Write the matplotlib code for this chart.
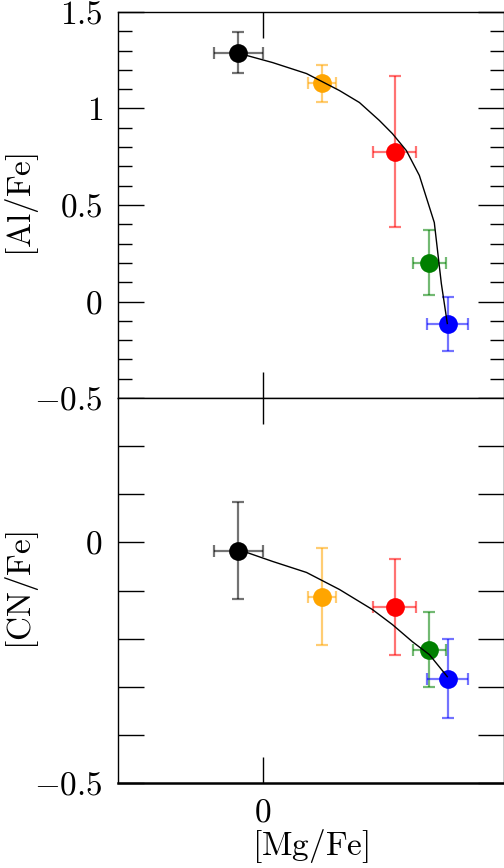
import numpy as np
import matplotlib
matplotlib.use("Agg")
import matplotlib.pyplot as plt
from matplotlib.ticker import FixedLocator, FuncFormatter

# ---- data ----
colors = ["black", "orange", "red", "green", "blue"]
mg = [-0.025, 0.062, 0.137, 0.173, 0.192]
mg_err = [0.025, 0.0145, 0.022, 0.017, 0.021]
al = [1.29, 1.13, 0.777, 0.202, -0.119]
al_err = [0.105, 0.095, 0.39, 0.168, 0.14]
cn = [-0.017, -0.1125, -0.135, -0.223, -0.283]
cn_err = [0.10, 0.10, 0.10, 0.078, 0.082]

# model curves
al_curve_x = [-0.0249, -0.0166, 0.0104, 0.0456, 0.0798, 0.1005, 0.1212, 0.1347,
              0.1492, 0.1627, 0.1782, 0.1855, 0.1917]
al_curve_y = [1.290, 1.275, 1.238, 1.181, 1.093, 1.031, 0.938, 0.870,
              0.782, 0.653, 0.409, 0.093, -0.114]
cn_curve_x = [-0.0249, -0.0166, 0.0104, 0.0456, 0.0798, 0.1140, 0.1347, 0.1554,
              0.1731, 0.1917]
cn_curve_y = [-0.0167, -0.0208, -0.0396, -0.0625, -0.0979, -0.1396, -0.1708,
              -0.2063, -0.2333, -0.279]

plt.rcParams["mathtext.fontset"] = "cm"
plt.rcParams["font.family"] = "serif"
plt.rcParams["font.serif"] = ["cmr10", "DejaVu Serif"]
plt.rcParams["axes.unicode_minus"] = True

fig = plt.figure(figsize=(5.04, 8.68), dpi=100)
L, R = 118 / 504, 503.5 / 504
ax1 = fig.add_axes([L, 1 - 398 / 868, R - L, 386 / 868])
ax2 = fig.add_axes([L, 1 - 783 / 868, R - L, 385 / 868])

FS = 24
LFS = 24

def fmt(v, pos):
    if abs(v - round(v)) < 1e-9:
        s = "%d" % round(v)
    else:
        s = ("%.1f" % v)
    return r"$%s$" % s

def plot_panel(ax, yv, yerr, cx, cy):
    for i in range(len(mg)):
        ax.errorbar(mg[i], yv[i], xerr=mg_err[i], yerr=yerr[i], fmt="none",
                    ecolor=colors[i], elinewidth=1.6, capsize=4, capthick=1.6,
                    alpha=0.55, zorder=3)
        ax.plot(mg[i], yv[i], "o", color=colors[i], ms=13.5, mec="none", zorder=4)
    ax.plot(cx, cy, color="black", lw=1.0, zorder=5)
    ax.set_xlim(-0.15, 0.25)
    ax.xaxis.set_major_locator(FixedLocator([0]))
    ax.tick_params(axis="both", which="both", direction="in", top=True, right=True,
                   labelsize=FS, pad=11)
    ax.tick_params(which="major", length=19, width=1.0)
    ax.tick_params(which="minor", length=10, width=1.0)
    for sp in ax.spines.values():
        sp.set_linewidth(1.0)
    ax.yaxis.set_major_formatter(FuncFormatter(fmt))

plot_panel(ax1, al, al_err, al_curve_x, al_curve_y)
ax1.set_ylim(-0.5, 1.5)
ax1.yaxis.set_major_locator(FixedLocator([-0.5, 0, 0.5, 1.0, 1.5]))
ax1.yaxis.set_minor_locator(FixedLocator(np.arange(-0.4, 1.45, 0.1)))
ax1.tick_params(axis="x", labelbottom=False)
ax1.set_ylabel(r"$\mathrm{[Al/Fe]}$", fontsize=LFS)
ax1.yaxis.set_label_coords(-0.20, 0.5)

plot_panel(ax2, cn, cn_err, cn_curve_x, cn_curve_y)
ax2.set_ylim(-0.5, 0.3)
ax2.yaxis.set_major_locator(FixedLocator([-0.5, -0.4, -0.3, -0.2, -0.1, 0, 0.1, 0.2]))
ax2.yaxis.set_major_formatter(FuncFormatter(
    lambda v, p: fmt(v, p) if (abs(v) < 1e-9 or abs(v + 0.5) < 1e-9) else ""))
ax2.spines["bottom"].set_linewidth(1.8)
ax2.xaxis.set_major_formatter(FuncFormatter(lambda v, p: r"$0$"))
ax2.set_ylabel(r"$\mathrm{[CN/Fe]}$", fontsize=LFS)
ax2.yaxis.set_label_coords(-0.20, 0.5)
ax2.set_xlabel(r"$\mathrm{[Mg/Fe]}$", fontsize=LFS, labelpad=0)

fig.savefig("out.png", dpi=100)
